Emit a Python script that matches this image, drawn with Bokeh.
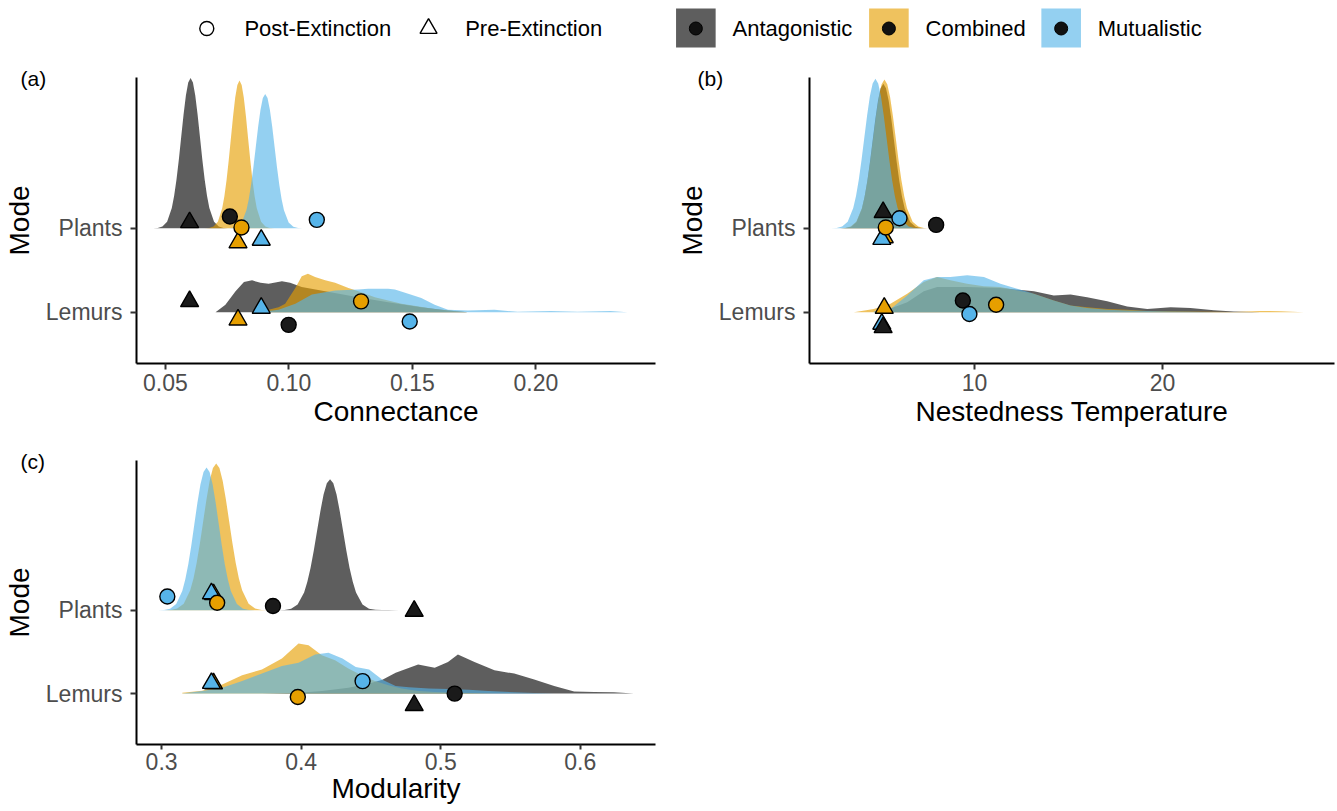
from bokeh.plotting import figure
from bokeh.layouts import column, row
from bokeh.models import Range1d, FixedTicker, ColumnDataSource, NumeralTickFormatter
from bokeh.embed import file_html
from bokeh.resources import INLINE
from bokeh.core.properties import value

FONT = "Liberation Sans"

# ---------------- categories ----------------
MODES = ["Lemurs", "Plants"]                 # ridge rows, bottom to top
GROUPS = ["Antagonistic", "Combined", "Mutualistic"]
TYPES = ["Post-Extinction", "Pre-Extinction"]
GROUP_FILL = {"Antagonistic": "#000000", "Combined": "#E69F00", "Mutualistic": "#56B4E9"}
POINT_FILL = {"Antagonistic": "#1A1A1A", "Combined": "#E69F00", "Mutualistic": "#56B4E9"}
TYPE_MARKER = {"Post-Extinction": "circle", "Pre-Extinction": "triangle"}

# ---------------- (a) Connectance densities (x, ridge height) ----------------
conn_plants_ant_x = [0.0450, 0.0469, 0.0488, 0.0507, 0.0526, 0.05355, 0.0545, 0.05545, 0.0564, 0.05735, 0.0583, 0.05925, 0.0602,
                     0.06115, 0.0621, 0.06305, 0.0640, 0.06495, 0.0659, 0.06685, 0.0678, 0.0697, 0.0716, 0.0735, 0.0754]
conn_plants_ant_h = [0.0005, 0.004, 0.020, 0.079, 0.242, 0.387, 0.581, 0.819, 1.086, 1.351, 1.580, 1.735, 1.790,
                     1.735, 1.580, 1.351, 1.086, 0.819, 0.581, 0.387, 0.242, 0.079, 0.020, 0.004, 0.0005]
conn_plants_com_x = [0.0660, 0.06775, 0.0695, 0.07125, 0.0730, 0.07388, 0.07475, 0.07563, 0.0765, 0.07738, 0.07825, 0.07913, 0.0800,
                     0.08088, 0.08175, 0.08263, 0.0835, 0.08438, 0.08525, 0.08613, 0.0870, 0.08875, 0.0905, 0.09225, 0.0940]
conn_plants_com_h = [0.0005, 0.004, 0.020, 0.077, 0.238, 0.381, 0.571, 0.806, 1.067, 1.328, 1.553, 1.706, 1.760,
                     1.706, 1.553, 1.328, 1.067, 0.806, 0.571, 0.381, 0.238, 0.077, 0.020, 0.004, 0.0005]
conn_plants_mut_x = [0.0752, 0.0771, 0.0790, 0.0809, 0.0828, 0.08375, 0.0847, 0.08565, 0.0866, 0.08755, 0.0885, 0.08945, 0.0904,
                     0.09135, 0.0923, 0.09325, 0.0942, 0.09515, 0.0961, 0.09705, 0.0980, 0.0999, 0.1018, 0.1037, 0.1056]
conn_plants_mut_h = [0.0005, 0.0035, 0.018, 0.070, 0.216, 0.346, 0.520, 0.732, 0.970, 1.208, 1.412, 1.551, 1.600,
                     1.551, 1.412, 1.208, 0.970, 0.732, 0.520, 0.346, 0.216, 0.070, 0.018, 0.0035, 0.0005]
conn_lemurs_ant_x = [0.0703, 0.0743, 0.0784, 0.0818, 0.0851, 0.0885, 0.0918, 0.0972, 0.1005, 0.1052, 0.1147, 0.1281, 0.1402, 0.1536, 0.1644, 0.1724]
conn_lemurs_ant_h = [0.00, 0.09, 0.25, 0.36, 0.38, 0.35, 0.34, 0.37, 0.35, 0.30, 0.25, 0.18, 0.12, 0.06, 0.02, 0.00]
conn_lemurs_com_x = [0.0878, 0.0918, 0.0958, 0.0985, 0.1026, 0.1052, 0.1077, 0.1106, 0.1147, 0.1187, 0.1241, 0.1281, 0.1348, 0.1456, 0.1590, 0.1724]
conn_lemurs_com_h = [0.00, 0.03, 0.06, 0.10, 0.29, 0.43, 0.46, 0.42, 0.38, 0.35, 0.29, 0.25, 0.18, 0.10, 0.04, 0.00]
conn_lemurs_mut_x = [0.0878, 0.0958, 0.1026, 0.1093, 0.1187, 0.1281, 0.1321, 0.1402, 0.1429, 0.1483, 0.1536, 0.1590, 0.1644, 0.1724, 0.1832, 0.1926, 0.2060, 0.2168, 0.2302, 0.2370]
conn_lemurs_mut_h = [0.00, 0.03, 0.10, 0.21, 0.26, 0.27, 0.28, 0.28, 0.27, 0.22, 0.17, 0.09, 0.03, 0.02, 0.03, 0.005, 0.015, 0.005, 0.015, 0.00]

# ---------------- (b) Nestedness temperature densities ----------------
nest_plants_ant_x = [2.87, 3.155, 3.44, 3.725, 4.01, 4.1525, 4.295, 4.4375, 4.58, 4.7225, 4.865, 5.0075, 5.15,
                     5.2925, 5.435, 5.5775, 5.72, 5.8625, 6.005, 6.1475, 6.29, 6.575, 6.86, 7.145, 7.43]
nest_plants_ant_h = [0.0005, 0.004, 0.019, 0.076, 0.233, 0.372, 0.558, 0.787, 1.043, 1.298, 1.518, 1.667, 1.720,
                     1.667, 1.518, 1.298, 1.043, 0.787, 0.558, 0.372, 0.233, 0.076, 0.019, 0.004, 0.0005]
nest_plants_com_x = [2.81, 3.11, 3.41, 3.71, 4.01, 4.16, 4.31, 4.46, 4.61, 4.76, 4.91, 5.06, 5.21,
                     5.36, 5.51, 5.66, 5.81, 5.96, 6.11, 6.26, 6.41, 6.71, 7.01, 7.31, 7.61]
nest_plants_com_h = [0.0005, 0.004, 0.020, 0.078, 0.239, 0.383, 0.575, 0.810, 1.074, 1.336, 1.562, 1.716, 1.770,
                     1.716, 1.562, 1.336, 1.074, 0.810, 0.575, 0.383, 0.239, 0.078, 0.020, 0.004, 0.0005]
nest_plants_mut_x = [2.37, 2.665, 2.96, 3.255, 3.55, 3.6975, 3.845, 3.9925, 4.14, 4.2875, 4.435, 4.5825, 4.73,
                     4.8775, 5.025, 5.1725, 5.32, 5.4675, 5.615, 5.7625, 5.91, 6.205, 6.5, 6.795, 7.09]
nest_plants_mut_h = [0.0005, 0.004, 0.020, 0.078, 0.241, 0.385, 0.578, 0.815, 1.080, 1.344, 1.571, 1.725, 1.780,
                     1.725, 1.571, 1.344, 1.080, 0.815, 0.578, 0.385, 0.241, 0.078, 0.020, 0.004, 0.0005]
nest_lemurs_ant_x = [5.00, 6.42, 7.30, 8.01, 9.61, 11.38, 13.16, 14.22, 15.11, 15.99, 17.06, 18.12, 19.19, 20.43, 21.49, 22.73, 23.79, 25.21]
nest_lemurs_ant_h = [0.00, 0.12, 0.25, 0.30, 0.30, 0.29, 0.25, 0.20, 0.21, 0.18, 0.13, 0.07, 0.04, 0.06, 0.05, 0.024, 0.008, 0.00]
nest_lemurs_com_x = [3.58, 4.64, 5.53, 6.42, 7.30, 8.01, 8.72, 9.61, 10.50, 11.38, 12.27, 13.16, 14.22, 15.11, 15.99, 17.06, 18.12, 19.19, 20.43, 21.49, 22.73, 23.79, 25.21, 26.28, 27.52]
nest_lemurs_com_h = [0.00, 0.04, 0.10, 0.22, 0.36, 0.42, 0.38, 0.34, 0.31, 0.30, 0.26, 0.22, 0.14, 0.08, 0.06, 0.04, 0.03, 0.016, 0.012, 0.008, 0.005, 0.003, 0.016, 0.012, 0.00]
nest_lemurs_mut_x = [4.64, 5.53, 6.42, 7.30, 8.01, 8.72, 9.61, 10.50, 11.38, 12.27, 13.16, 14.22, 15.11, 15.99, 17.06, 18.12, 19.19, 20.43, 21.49, 22.73]
nest_lemurs_mut_h = [0.01, 0.04, 0.20, 0.38, 0.42, 0.42, 0.44, 0.42, 0.34, 0.28, 0.22, 0.14, 0.08, 0.05, 0.03, 0.02, 0.016, 0.01, 0.005, 0.00]

# ---------------- (c) Modularity densities ----------------
mod_plants_ant_x = [0.3835, 0.38815, 0.3928, 0.39745, 0.4021, 0.40443, 0.40675, 0.40908, 0.4114, 0.41373, 0.41605, 0.41838, 0.4207,
                    0.42303, 0.42535, 0.42768, 0.4300, 0.43233, 0.43465, 0.43698, 0.4393, 0.44395, 0.4486, 0.45325, 0.4579, 0.4625, 0.4700]
mod_plants_ant_h = [0.0005, 0.0035, 0.017, 0.069, 0.212, 0.340, 0.510, 0.719, 0.952, 1.185, 1.386, 1.522, 1.570,
                    1.522, 1.386, 1.185, 0.952, 0.719, 0.510, 0.340, 0.212, 0.069, 0.017, 0.006, 0.004, 0.003, 0.000]
mod_plants_com_x = [0.3019, 0.30655, 0.3112, 0.31585, 0.3205, 0.32283, 0.32515, 0.32748, 0.3298, 0.33213, 0.33445, 0.33678, 0.3391,
                    0.34143, 0.34375, 0.34608, 0.3484, 0.35073, 0.35305, 0.35538, 0.3577, 0.36235, 0.3670, 0.37165, 0.3763]
mod_plants_com_h = [0.0005, 0.004, 0.020, 0.077, 0.238, 0.381, 0.571, 0.806, 1.067, 1.328, 1.553, 1.706, 1.760,
                    1.706, 1.553, 1.328, 1.067, 0.806, 0.571, 0.381, 0.238, 0.077, 0.020, 0.004, 0.0005]
mod_plants_mut_x = [0.2974, 0.30175, 0.3061, 0.31045, 0.3148, 0.31698, 0.31915, 0.32133, 0.3235, 0.32568, 0.32785, 0.33003, 0.3322,
                    0.33438, 0.33655, 0.33873, 0.3409, 0.34308, 0.34525, 0.34743, 0.3496, 0.35395, 0.3583, 0.36265, 0.3670]
mod_plants_mut_h = [0.0005, 0.004, 0.019, 0.075, 0.231, 0.370, 0.555, 0.783, 1.037, 1.291, 1.509, 1.657, 1.710,
                    1.657, 1.509, 1.291, 1.037, 0.783, 0.555, 0.370, 0.231, 0.075, 0.019, 0.004, 0.0005]
mod_lemurs_ant_x = [0.3719, 0.3981, 0.4148, 0.4338, 0.4487, 0.4582, 0.4677, 0.4838, 0.4957, 0.5052, 0.5123, 0.5242, 0.5385, 0.5527, 0.5670, 0.5813, 0.5956, 0.6099, 0.6241, 0.6384]
mod_lemurs_ant_h = [0.00, 0.01, 0.03, 0.07, 0.12, 0.165, 0.25, 0.35, 0.31, 0.38, 0.47, 0.38, 0.28, 0.24, 0.17, 0.09, 0.024, 0.02, 0.016, 0.00]
mod_lemurs_com_x = [0.3148, 0.3291, 0.3434, 0.3577, 0.3719, 0.3862, 0.3981, 0.4053, 0.4148, 0.4243, 0.4338, 0.4433, 0.4528, 0.4624, 0.4719, 0.4838, 0.4957, 0.5123, 0.5385]
mod_lemurs_com_h = [0.01, 0.035, 0.11, 0.22, 0.29, 0.42, 0.60, 0.58, 0.46, 0.40, 0.30, 0.22, 0.15, 0.10, 0.06, 0.03, 0.02, 0.01, 0.00]
mod_lemurs_mut_x = [0.3148, 0.3291, 0.3434, 0.3577, 0.3719, 0.3862, 0.3981, 0.4100, 0.4196, 0.4296, 0.4391, 0.4487, 0.4582, 0.4677, 0.4772, 0.4915, 0.5052, 0.5200, 0.5343, 0.5527, 0.5670, 0.5813]
mod_lemurs_mut_h = [0.00, 0.03, 0.07, 0.15, 0.24, 0.33, 0.37, 0.47, 0.49, 0.42, 0.32, 0.29, 0.165, 0.09, 0.075, 0.06, 0.055, 0.047, 0.03, 0.016, 0.008, 0.00]

# ---------------- observed points (drawing order) ----------------
conn_pt_mode = ["Plants", "Plants", "Plants", "Lemurs", "Lemurs", "Lemurs", "Plants", "Plants", "Plants", "Lemurs", "Lemurs", "Lemurs"]
conn_pt_type = ["Pre-Extinction"] * 6 + ["Post-Extinction"] * 6
conn_pt_group = ["Antagonistic", "Combined", "Mutualistic"] * 4
conn_pt_value = [0.0598, 0.0794, 0.0888, 0.0598, 0.0794, 0.0888, 0.0761, 0.0808, 0.1113, 0.0999, 0.1292, 0.1489]
conn_pt_jitter = [0.07, -0.17, -0.14, 0.13, -0.09, 0.05, 0.14, 0.01, 0.10, -0.15, 0.13, -0.11]

nest_pt_mode = ["Plants", "Plants", "Plants", "Lemurs", "Lemurs", "Lemurs", "Plants", "Plants", "Plants", "Lemurs", "Lemurs", "Lemurs"]
nest_pt_type = ["Pre-Extinction"] * 6 + ["Post-Extinction"] * 6
nest_pt_group = ["Antagonistic", "Combined", "Mutualistic", "Mutualistic", "Antagonistic", "Combined",
                 "Antagonistic", "Combined", "Mutualistic", "Antagonistic", "Combined", "Mutualistic"]
nest_pt_value = [5.14, 5.20, 5.07, 5.07, 5.14, 5.20, 7.96, 5.28, 6.01, 9.38, 11.15, 9.73]
nest_pt_jitter = [0.19, -0.11, -0.13, -0.14, -0.18, 0.05, 0.04, 0.01, 0.12, 0.14, 0.09, -0.02]

mod_pt_mode = ["Plants", "Plants", "Plants", "Lemurs", "Lemurs", "Lemurs", "Plants", "Plants", "Plants", "Lemurs", "Lemurs", "Lemurs"]
mod_pt_type = ["Pre-Extinction"] * 6 + ["Post-Extinction"] * 6
mod_pt_group = ["Antagonistic", "Combined", "Mutualistic"] * 4
mod_pt_value = [0.481, 0.3372, 0.3357, 0.481, 0.3372, 0.3357, 0.3798, 0.3398, 0.3041, 0.510, 0.3976, 0.444]
mod_pt_jitter = [-0.01, 0.19, 0.20, -0.14, 0.12, 0.125, 0.05, 0.09, 0.165, 0.00, -0.04, 0.15]

# ---------------- axes ----------------
conn_ticks = [0.05, 0.10, 0.15, 0.20]
nest_ticks = [10, 20]
mod_ticks = [0.3, 0.4, 0.5, 0.6]
Y_RANGE = (0.39, 3.795)
MODE_POS = {m: i + 1 for i, m in enumerate(MODES)}


def make_panel(title, tag, x_range, ticks, fmt, densities, pts, width, height, bl, br, bt, bb, tag_px):
    p = figure(width=width, height=height, x_range=Range1d(*x_range), y_range=Range1d(*Y_RANGE),
               toolbar_location=None, output_backend="svg",
               min_border_left=bl, min_border_right=br, min_border_top=bt, min_border_bottom=bb)
    p.outline_line_color = None
    p.grid.visible = False

    for mode in ["Plants", "Lemurs"]:
        for grp in GROUPS:
            xs, hs = densities[(mode, grp)]
            base = MODE_POS[mode]
            p.varea(x=xs, y1=[base] * len(xs), y2=[base + h for h in hs],
                    fill_color=GROUP_FILL[grp], fill_alpha=0.63)

    modes, types, groups, vals, jit = pts
    src = ColumnDataSource(dict(
        x=vals,
        y=[MODE_POS[m] + j for m, j in zip(modes, jit)],
        marker=[TYPE_MARKER[t] for t in types],
        size=[15 if t == "Post-Extinction" else 18 for t in types],
        fill=[POINT_FILL[g] for g in groups],
    ))
    p.scatter(x="x", y="y", marker="marker", size="size", fill_color="fill",
              line_color="black", line_width=1.4, source=src)

    for ax in (p.xaxis[0], p.yaxis[0]):
        ax.axis_line_width = 2
        ax.axis_line_color = "black"
        ax.major_tick_line_width = 2
        ax.major_tick_line_color = "#333333"
        ax.major_tick_out = 6
        ax.major_tick_in = 0
        ax.minor_tick_line_color = None
        ax.major_label_text_font = FONT
        ax.major_label_text_font_size = "23px"
        ax.major_label_text_color = "#4D4D4D"
        ax.axis_label_text_font = FONT
        ax.axis_label_text_font_size = "28px"
        ax.axis_label_text_font_style = "normal"
        ax.axis_label_text_color = "black"

    p.xaxis.ticker = FixedTicker(ticks=ticks)
    p.xaxis.formatter = NumeralTickFormatter(format=fmt)
    p.xaxis.axis_label = title
    p.xaxis.major_label_standoff = 4
    p.xaxis.axis_label_standoff = 2

    p.yaxis.ticker = FixedTicker(ticks=[MODE_POS[m] for m in MODES])
    p.yaxis.major_label_overrides = {MODE_POS[m]: m for m in MODES}
    p.yaxis.axis_label = "Mode"
    p.yaxis.major_label_standoff = 8
    p.yaxis.axis_label_standoff = 8

    # panel tag, drawn as the plot title shifted into the left margin
    p.title.text = tag
    p.title.align = "left"
    p.title.offset = -tag_px
    p.title.vertical_align = "bottom"
    p.title.standoff = -24
    p.title.text_font = FONT
    p.title.text_font_size = "21px"
    p.title.text_font_style = "normal"
    p.title.text_color = "black"
    return p


fig_a = make_panel("Connectance", "(a)", (0.03831, 0.24839), conn_ticks, "0.00",
                   {("Plants", "Antagonistic"): (conn_plants_ant_x, conn_plants_ant_h),
                    ("Plants", "Combined"): (conn_plants_com_x, conn_plants_com_h),
                    ("Plants", "Mutualistic"): (conn_plants_mut_x, conn_plants_mut_h),
                    ("Lemurs", "Antagonistic"): (conn_lemurs_ant_x, conn_lemurs_ant_h),
                    ("Lemurs", "Combined"): (conn_lemurs_com_x, conn_lemurs_com_h),
                    ("Lemurs", "Mutualistic"): (conn_lemurs_mut_x, conn_lemurs_mut_h)},
                   (conn_pt_mode, conn_pt_type, conn_pt_group, conn_pt_value, conn_pt_jitter),
                   668, 380, 134, 13, 21, 73, 116)

fig_b = make_panel("Nestedness Temperature", "(b)", (1.2234, 29.149), nest_ticks, "0",
                   {("Plants", "Antagonistic"): (nest_plants_ant_x, nest_plants_ant_h),
                    ("Plants", "Combined"): (nest_plants_com_x, nest_plants_com_h),
                    ("Plants", "Mutualistic"): (nest_plants_mut_x, nest_plants_mut_h),
                    ("Lemurs", "Antagonistic"): (nest_lemurs_ant_x, nest_lemurs_ant_h),
                    ("Lemurs", "Combined"): (nest_lemurs_com_x, nest_lemurs_com_h),
                    ("Lemurs", "Mutualistic"): (nest_lemurs_mut_x, nest_lemurs_mut_h)},
                   (nest_pt_mode, nest_pt_type, nest_pt_group, nest_pt_value, nest_pt_jitter),
                   669, 380, 141, 3, 21, 73, 112)

fig_c = make_panel("Modularity", "(c)", (0.28201, 0.65389), mod_ticks, "0.0",
                   {("Plants", "Antagonistic"): (mod_plants_ant_x, mod_plants_ant_h),
                    ("Plants", "Combined"): (mod_plants_com_x, mod_plants_com_h),
                    ("Plants", "Mutualistic"): (mod_plants_mut_x, mod_plants_mut_h),
                    ("Lemurs", "Antagonistic"): (mod_lemurs_ant_x, mod_lemurs_ant_h),
                    ("Lemurs", "Combined"): (mod_lemurs_com_x, mod_lemurs_com_h),
                    ("Lemurs", "Mutualistic"): (mod_lemurs_mut_x, mod_lemurs_mut_h)},
                   (mod_pt_mode, mod_pt_type, mod_pt_group, mod_pt_value, mod_pt_jitter),
                   668, 375, 134, 13, 24, 67, 116)
fig_c.xaxis.axis_label_standoff = 0
fig_c.xaxis.major_tick_out = 5
fig_c.xaxis.major_label_standoff = 3

# ---------------- legend strip (page pixel coordinates) ----------------
leg = figure(width=1337, height=56, x_range=Range1d(134, 1334), y_range=Range1d(0, 56),
             toolbar_location=None, output_backend="svg",
             min_border_left=134, min_border_right=3, min_border_top=0, min_border_bottom=0)
leg.axis.visible = False
leg.grid.visible = False
leg.outline_line_color = None

shape_x = [205, 429]
shape_text_x = [243, 466]
leg.scatter(x=shape_x, y=[28, 28], marker=[TYPE_MARKER[t] for t in TYPES], size=[14, 17],
            fill_color="white", line_color="black", line_width=1.4)
leg.text(x=shape_text_x, y=[28, 28], text=TYPES, text_font=value(FONT), text_font_size=value("22px"),
         text_baseline="middle", text_align="left", text_color="black")

box_left = [679, 874, 1048]
box_w = 40
leg.quad(left=box_left, right=[b + box_w for b in box_left], bottom=[9] * 3, top=[48] * 3,
         fill_color=[GROUP_FILL[g] for g in GROUPS], fill_alpha=0.63, line_color=None)
leg.scatter(x=[b + box_w / 2 for b in box_left], y=[28] * 3, marker="circle", size=13,
            fill_color="#111111", line_color="black", line_width=1)
leg.text(x=[b + box_w + 17 for b in box_left], y=[28] * 3, text=GROUPS, text_font=value(FONT),
         text_font_size=value("22px"), text_baseline="middle", text_align="left", text_color="black")

layout = column(leg, row(fig_a, fig_b), fig_c)
open("out.html", "w").write(file_html(layout, INLINE))
